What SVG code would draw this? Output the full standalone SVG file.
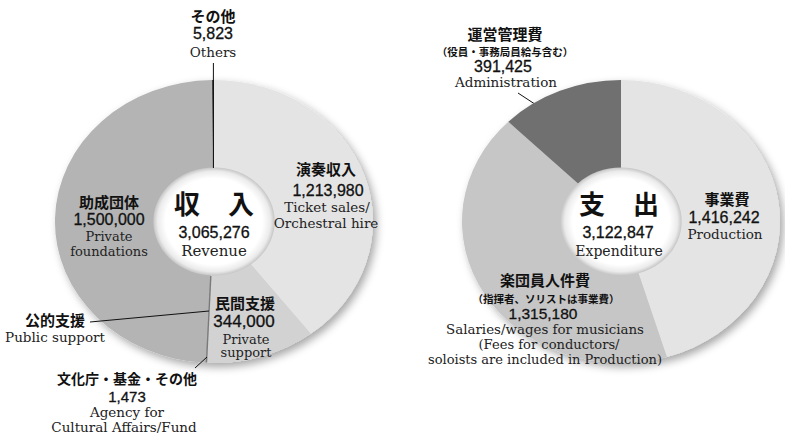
<svg xmlns="http://www.w3.org/2000/svg" width="785" height="437" viewBox="0 0 785 437">
<defs>
<filter id="sh" x="-15%" y="-15%" width="140%" height="140%">
<feDropShadow dx="3" dy="4" stdDeviation="4" flood-color="#000" flood-opacity="0.35"/>
</filter>
<radialGradient id="hole" cx="0.5" cy="0.5" r="0.5">
<stop offset="0" stop-color="#ffffff"/>
<stop offset="0.8" stop-color="#ffffff"/>
<stop offset="0.93" stop-color="#ebebeb"/>
<stop offset="1" stop-color="#c6c6c6"/>
</radialGradient>
<style>
.jp{font-family:"Noto Sans CJK JP","Noto Sans CJK SC",sans-serif;font-weight:bold;fill:#111;text-anchor:middle;font-size:15px}
.jps{font-size:10.5px}
.big{font-size:26px;word-spacing:22px}
.num{font-family:"Liberation Sans",Arial,sans-serif;fill:#111;stroke:#111;stroke-width:0.3;text-anchor:middle;font-size:16px}
.en{font-family:"DejaVu Serif","Liberation Serif",serif;fill:#222;text-anchor:middle;font-size:13.5px}
.ens{font-size:12.9px}
.ld{stroke:#111;stroke-width:1;fill:none}
</style>
</defs>

<!-- Revenue chart -->
<g id="revenue-pie" transform="translate(214,221.5) scale(1.1237,1)">
<g filter="url(#sh)">
<path id="s-ticket" d="M0,0 L0,-141.5 A141.5,141.5 0 0 1 86.02,112.35 Z" fill="#e4e4e4"/>
<path id="s-private" d="M0,0 L86.02,112.35 A141.5,141.5 0 0 1 -7.33,141.31 Z" fill="#d2d2d2"/>
<path id="s-public" d="M0,0 L-7.33,141.31 A141.5,141.5 0 0 1 -7.75,141.29 Z" fill="#888"/>
<path id="s-found" d="M0,0 L-7.75,141.29 A141.5,141.5 0 0 1 -1.70,-141.49 Z" fill="#b4b4b4"/>
<path id="s-others" d="M0,0 L-1.70,-141.49 A141.5,141.5 0 0 1 0,-141.5 Z" fill="#333"/>
</g>
<circle r="54" fill="url(#hole)"/>
</g>

<g id="connectors">
<line class="ld" x1="213.4" y1="63" x2="213.4" y2="168"/>
<line x1="210.8" y1="276" x2="206.5" y2="362.5" stroke="#7a7a7a" stroke-width="1.4"/>
<line class="ld" x1="90" y1="322" x2="209" y2="311"/>
<line class="ld" x1="195" y1="368" x2="207" y2="357"/>
<line class="ld" x1="518" y1="93" x2="550" y2="114"/>
</g>

<g id="revenue-center">
<text class="jp big" x="214" y="214">収 入</text>
<text class="num" x="214" y="238">3,065,276</text>
<text class="en" x="214" y="256" style="font-size:15px">Revenue</text>
</g>
<g id="others">
<text class="jp" x="213" y="22">その他</text>
<text class="num" x="213" y="39">5,823</text>
<text class="en" x="213" y="57">Others</text>
</g>
<g id="ticket-sales">
<text class="jp" x="326" y="175">演奏収入</text>
<text class="num" x="328" y="195.5">1,213,980</text>
<text class="en" x="327" y="212">Ticket sales/</text>
<text class="en" x="326" y="227.5">Orchestral hire</text>
</g>
<g id="foundations">
<text class="jp" x="109" y="208">助成団体</text>
<text class="num" x="109" y="224.5">1,500,000</text>
<text class="en" x="109" y="240.5" style="font-size:13px">Private</text>
<text class="en" x="109" y="256" style="font-size:13px">foundations</text>
</g>
<g id="private-support">
<text class="jp" x="245" y="309">民間支援</text>
<text class="num" x="244" y="326.5" style="font-size:17px">344,000</text>
<text class="en" x="246" y="343.5" style="font-size:13px">Private</text>
<text class="en" x="246" y="357" style="font-size:13px">support</text>
</g>
<g id="public-support">
<text class="jp" x="55" y="326">公的支援</text>
<text class="en" x="55" y="342">Public support</text>
</g>
<g id="agency">
<text class="jp" x="127" y="384" style="font-size:14px">文化庁・基金・その他</text>
<text class="num" x="127" y="401.5" style="font-size:15px">1,473</text>
<text class="en" x="127" y="417">Agency for</text>
<text class="en" x="124" y="432">Cultural Affairs/Fund</text>
</g>

<!-- Expenditure chart -->
<g id="expenditure-pie" transform="translate(621,221.5) scale(1.1237,1)">
<g filter="url(#sh)">
<path id="s-production" d="M0,0 L0,-141.5 A141.5,141.5 0 0 1 40.76,135.50 Z" fill="#e4e4e4"/>
<path id="s-salaries" d="M0,0 L40.76,135.50 A141.5,141.5 0 0 1 -100.28,-99.83 Z" fill="#c6c6c6"/>
<path id="s-admin" d="M0,0 L-100.28,-99.83 A141.5,141.5 0 0 1 0,-141.5 Z" fill="#707070"/>
</g>
<circle r="54" fill="url(#hole)"/>
</g>

<g id="expenditure-center">
<text class="jp big" x="619" y="214">支 出</text>
<text class="num" x="618" y="238">3,122,847</text>
<text class="en" x="619" y="256" style="font-size:14px">Expenditure</text>
</g>
<g id="administration">
<text class="jp" x="505" y="40">運営管理費</text>
<text class="jp jps" x="505" y="56">（役員・事務局員給与含む）</text>
<text class="num" x="503" y="72">391,425</text>
<text class="en" x="506" y="87">Administration</text>
</g>
<g id="production">
<text class="jp" x="727" y="205">事業費</text>
<text class="num" x="724" y="222.5">1,416,242</text>
<text class="en" x="725" y="238.5">Production</text>
</g>
<g id="salaries">
<text class="jp" x="545" y="286">楽団員人件費</text>
<text class="jp jps" x="546" y="303">（指揮者、ソリストは事業費）</text>
<text class="num" x="543" y="318.5" style="font-size:15.5px">1,315,180</text>
<text class="en ens" x="545" y="333.5" textLength="198" lengthAdjust="spacingAndGlyphs">Salaries/wages for musicians</text>
<text class="en ens" x="549" y="348.5" textLength="141" lengthAdjust="spacingAndGlyphs">(Fees for conductors/</text>
<text class="en ens" x="545" y="363.5" textLength="234" lengthAdjust="spacingAndGlyphs">soloists are included in Production)</text>
</g>
</svg>
